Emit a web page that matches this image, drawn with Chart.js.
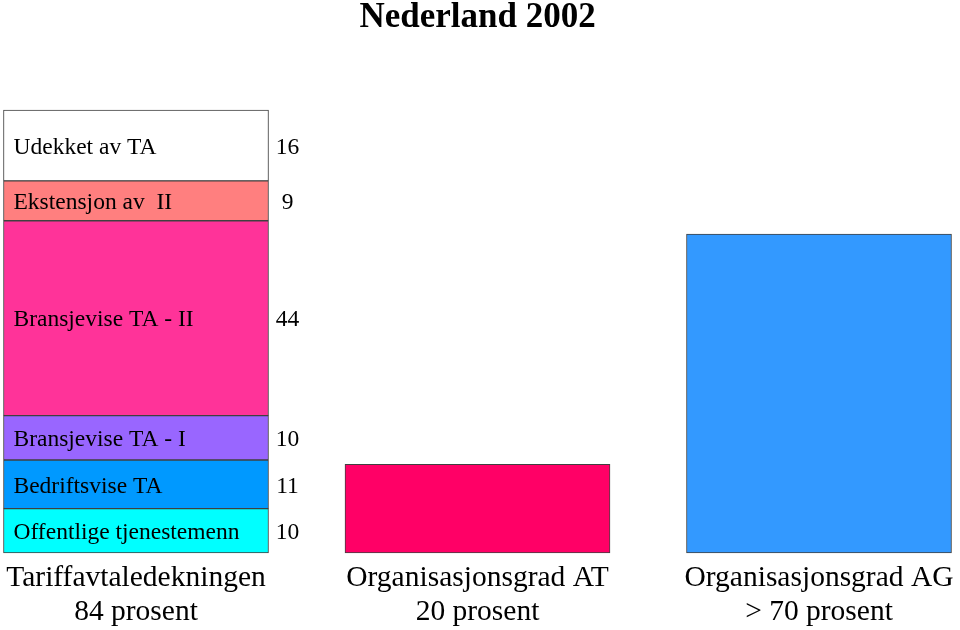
<!DOCTYPE html>
<html>
<head>
<meta charset="utf-8">
<script src="https://cdn.jsdelivr.net/npm/chart.js@4/dist/chart.umd.min.js"></script>
<style>
  html, body { margin: 0; padding: 0; background: #fff; }
  #wrap { width: 960px; height: 630px; }
</style>
</head>
<body>
<div id="wrap"><canvas id="chart"></canvas></div>
<script>
// Data
const categories = [
    ['Tariffavtaledekningen', '84 prosent'],
    ['Organisasjonsgrad AT', '20 prosent'],
    ['Organisasjonsgrad AG', '> 70 prosent']
];
// segments of the first bar, bottom to top
const segmentNames = ['Offentlige tjenestemenn', 'Bedriftsvise TA', 'Bransjevise TA - I', 'Bransjevise TA - II', 'Ekstensjon av  II', 'Udekket av TA'];
const segmentValues = [10, 11, 10, 44, 9, 16];
const segmentColors = ['#00FFFF', '#0099FF', '#9966FF', '#FF3399', '#FF7F7F', '#FFFFFF'];
const orgAT = 20;
const orgAG = 72;

const serif = '"Liberation Serif", "Times New Roman", serif';

const datasets = segmentNames.map((name, i) => ({
    label: name,
    data: [segmentValues[i], null, null],
    backgroundColor: segmentColors[i],
    segment: true
}));
datasets.push({ label: 'AT', data: [null, orgAT, null], backgroundColor: '#FF0066' });
datasets.push({ label: 'AG', data: [null, null, orgAG], backgroundColor: '#3399FF' });

datasets.forEach(ds => {
    ds.borderColor = '#404040';
    ds.borderWidth = 1;
    ds.borderSkipped = false;
    ds.barThickness = 265;
    ds.clip = false;
});

// names inside the segments and values to the right
const segmentLabels = {
    id: 'segmentLabels',
    afterDatasetsDraw(chart) {
        const ctx = chart.ctx;
        ctx.save();
        ctx.fillStyle = '#000';
        ctx.font = '23.5px ' + serif;
        ctx.textBaseline = 'middle';
        chart.data.datasets.forEach((ds, i) => {
            if (!ds.segment) return;
            const bar = chart.getDatasetMeta(i).data[0];
            const w = bar.width;
            const y = (bar.y + bar.base) / 2 + 2;
            ctx.textAlign = 'left';
            ctx.fillText(ds.label, bar.x - w / 2 + 10, y);
            ctx.textAlign = 'center';
            ctx.fillText(String(ds.data[0]), bar.x + w / 2 + 19, y);
        });
        ctx.restore();
    }
};

new Chart(document.getElementById('chart'), {
    type: 'bar',
    data: { labels: categories, datasets: datasets },
    plugins: [segmentLabels],
    options: {
        responsive: true,
        maintainAspectRatio: false,
        animation: false,
        layout: { padding: { left: 136, right: 141, top: 0, bottom: 2 } },
        plugins: {
            legend: { display: false },
            tooltip: { enabled: false },
            title: {
                display: true,
                text: 'Nederland 2002',
                color: '#000',
                font: { family: serif, size: 35, weight: 'bold', lineHeight: 1.0 },
                padding: { top: 0, bottom: 75 }
            }
        },
        scales: {
            x: {
                stacked: true,
                offset: false,
                grid: { display: false },
                border: { display: false },
                afterFit(scale) { scale.height = 75; },
                ticks: {
                    color: '#000',
                    padding: 0,
                    maxRotation: 0,
                    autoSkip: false,
                    font: { family: serif, size: 29.5, lineHeight: 1.15 }
                }
            },
            y: {
                stacked: true,
                display: false,
                min: 0,
                max: 100
            }
        }
    }
});
</script>
</body>
</html>
